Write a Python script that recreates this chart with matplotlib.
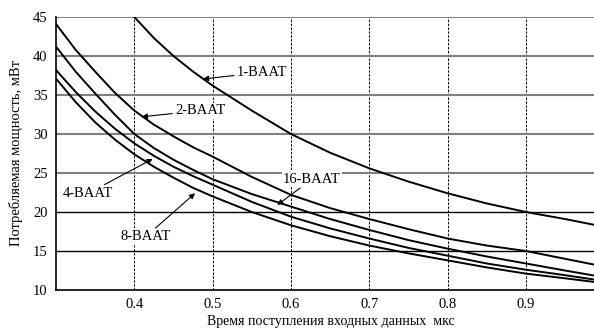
import matplotlib.pyplot as plt

# время поступления входных данных, мкс
X = [0.30, 0.325, 0.35, 0.375, 0.40, 0.425, 0.45, 0.475, 0.50, 0.55,
     0.60, 0.65, 0.70, 0.75, 0.80, 0.85, 0.90, 0.95, 0.99]
P_2 = [44.1, 40.8, 38.0, 35.3, 33.0, 31.2, 29.7, 28.3, 27.1, 24.5,
       22.2, 20.5, 19.1, 17.8, 16.6, 15.7, 15.0, 14.0, 13.2]
P_16 = [41.2, 38.0, 35.2, 32.5, 30.0, 28.2, 26.7, 25.4, 24.2, 22.3,
        20.7, 19.1, 17.7, 16.4, 15.3, 14.3, 13.4, 12.5, 11.8]
P_4 = [38.2, 35.4, 32.9, 30.7, 28.8, 27.2, 25.8, 24.6, 23.5, 21.3,
       19.4, 17.9, 16.6, 15.4, 14.4, 13.4, 12.6, 11.9, 11.3]
P_8 = [37.1, 34.1, 31.5, 29.3, 27.4, 25.8, 24.4, 23.1, 22.0, 20.0,
       18.3, 16.9, 15.7, 14.7, 13.8, 12.9, 12.1, 11.5, 11.0]

X_1 = [0.40, 0.425, 0.45, 0.475, 0.50, 0.55, 0.60, 0.65, 0.70, 0.75,
       0.80, 0.85, 0.90, 0.95, 0.99]
P_1 = [45.0, 42.3, 40.0, 38.0, 36.2, 33.0, 30.0, 27.6, 25.6, 23.9,
       22.4, 21.1, 20.0, 19.1, 18.3]

X_TICKS = [0.4, 0.5, 0.6, 0.7, 0.8, 0.9]
Y_TICKS = [10, 15, 20, 25, 30, 35, 40, 45]
GRAY_LINES = [25, 30, 35, 40, 45]
BLACK_LINES = [15, 20]

plt.rcParams['font.family'] = ['Liberation Serif', 'DejaVu Serif']

fig = plt.figure(figsize=(5.94, 3.30), dpi=100)
ax = fig.add_axes([0.0943, 0.1212, 0.9057, 0.8273])

for x in X_TICKS:
    ax.axvline(x, color='black', lw=0.7, ls=(0, (2.5, 1.5)), zorder=1)
for y in GRAY_LINES:
    ax.axhline(y, color='#808080', lw=1.5, zorder=1)
for y in BLACK_LINES:
    ax.axhline(y, color='black', lw=1.0, zorder=1)

for ys in (P_2, P_16, P_4, P_8):
    ax.plot(X, ys, color='black', lw=1.4, zorder=2)
ax.plot(X_1, P_1, color='black', lw=1.4, zorder=2)

labels = [
    ("1-BAAT", (0.4877, 37.05), (0.531, 37.9)),
    ("2-BAAT", (0.4094, 32.2), (0.452, 33.0)),
    ("4-BAAT", (0.4234, 26.8), (0.309, 22.4)),
    ("8-BAAT", (0.4775, 22.4), (0.382, 16.8)),
    ("16-BAAT", (0.5826, 20.9), (0.590, 24.2)),
]
for text, tip, pos in labels:
    ax.annotate(text, xy=tip, xytext=pos, fontsize=10.5, va='center', ha='left',
                bbox=dict(boxstyle='square,pad=0.1', fc='white', ec='none'),
                arrowprops=dict(arrowstyle='-|>', color='black', lw=0.8,
                                mutation_scale=8, shrinkA=1, shrinkB=0),
                zorder=3)

ax.set_xlim(0.3, 0.987)
ax.set_ylim(10, 45)
ax.set_xticks(X_TICKS)
ax.set_yticks(Y_TICKS)
ax.tick_params(length=0, labelsize=10.5, pad=6)
ax.spines['top'].set_visible(False)
ax.spines['right'].set_visible(False)
ax.spines['left'].set_linewidth(1.2)
ax.spines['bottom'].set_linewidth(1.2)

ax.set_xlabel('Время поступления входных данных  мкс', fontsize=10, labelpad=4)
ax.xaxis.set_label_coords(0.51, -0.09)
ax.set_ylabel('Потребляемая мощность, мВт', fontsize=10.5, labelpad=7)

fig.savefig('out.png', dpi=100)
